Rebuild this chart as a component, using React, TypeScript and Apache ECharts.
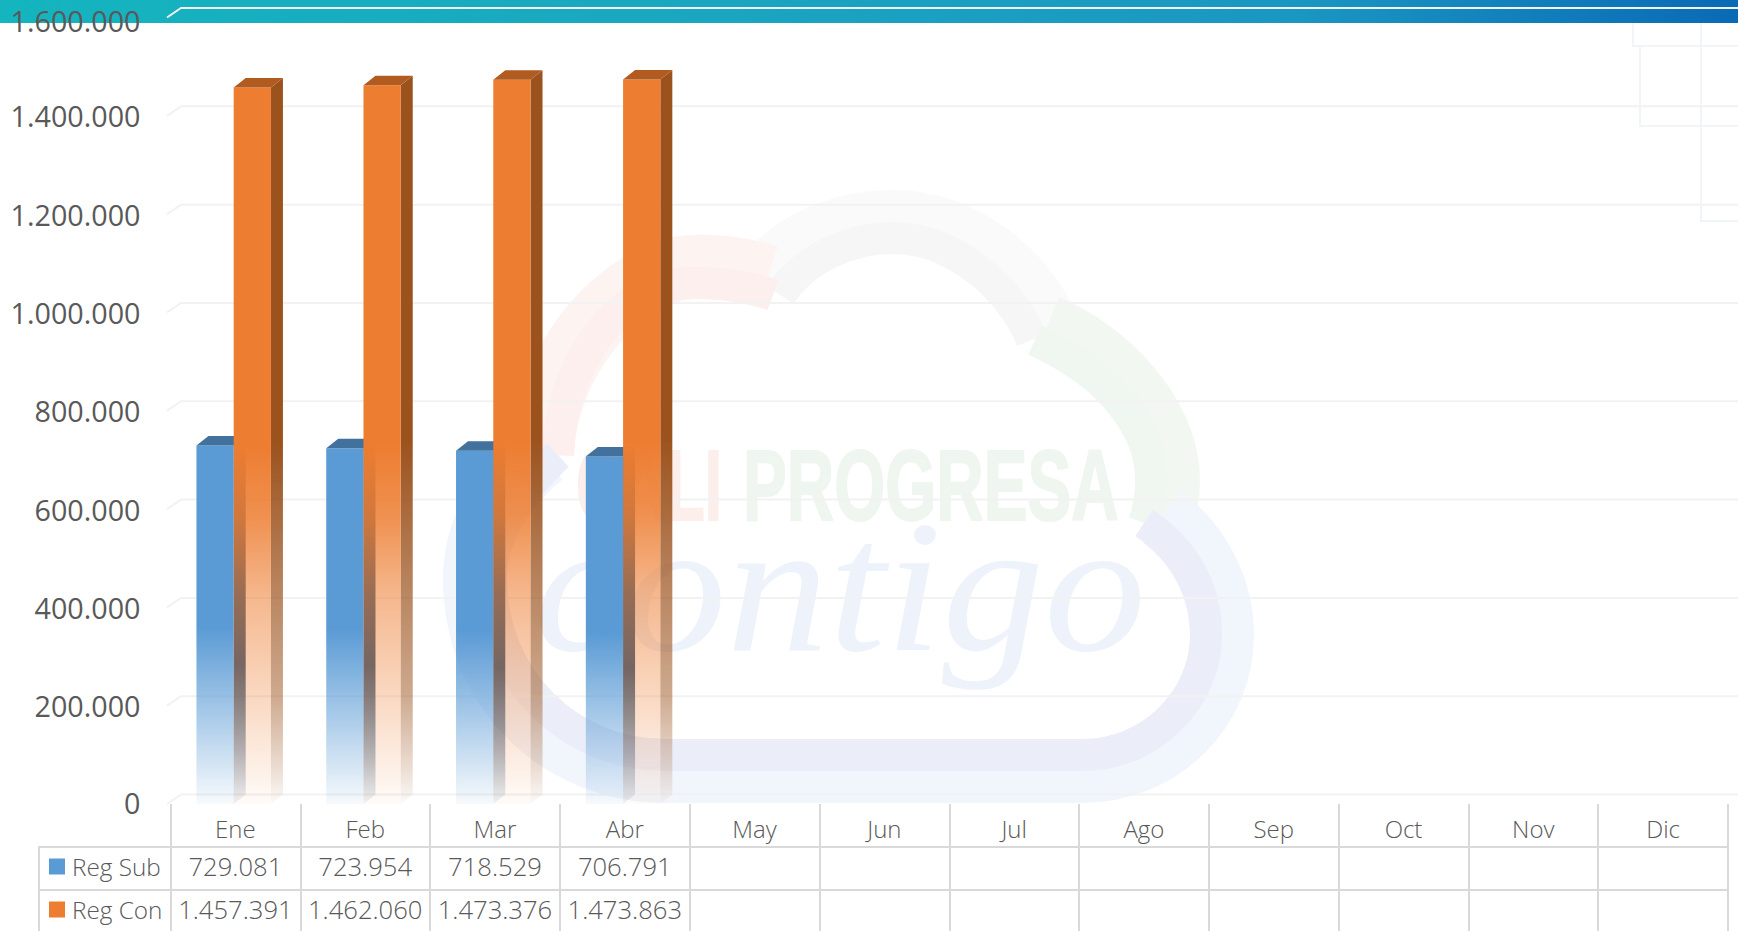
import React, { useEffect, useRef } from "react";
import * as echarts from "echarts";

const months = ["Ene", "Feb", "Mar", "Abr", "May", "Jun", "Jul", "Ago", "Sep", "Oct", "Nov", "Dic"];
const regSub = [729081, 723954, 718529, 706791];
const regCon = [1457391, 1462060, 1473376, 1473863];
const yTicks = [0, 200000, 400000, 600000, 800000, 1000000, 1200000, 1400000, 1600000];

const FONT = "'Open Sans', sans-serif";
const TEXT = "#595959";
const DEPTH_X = 12;
const DEPTH_Y = 9.5;

const dots = (v: number) => String(v).replace(/\B(?=(\d{3})+(?!\d))/g, ".");

const rgba = (hex: string, a: number) => {
  const n = parseInt(hex.slice(1), 16);
  return `rgba(${(n >> 16) & 255},${(n >> 8) & 255},${n & 255},${a})`;
};
const fade = (hex: string, stops: number[][]) =>
  new echarts.graphic.LinearGradient(0, 0, 0, 1, stops.map(([offset, a]) => ({ offset, color: rgba(hex, a) })));

const ring: [string, string, string, string, string][] = [
  ["wmGrayO", "M768,277C790,245 840,222 893,222C965,222 1025,275 1047,327", "M780,295C805,258 850,238 893,238C955,238 1012,290 1032,340", "#FAFAFA", "#F6F6F6"],
  ["wmRedO", "M768,277C740,268 710,265 680,268C610,285 545,365 542,455", "M773,295C745,285 700,280 668,285C610,300 560,370 558,455", "#FDF3F1", "#FCEFED"],
  ["wmGreenO", "M1047,327C1105,350 1168,415 1168,480C1168,495 1166,505 1162,517", "M1035,340C1110,375 1151,425 1151,480C1151,495 1149,510 1144,523", "#F2F7F2", "#F0F6F0"],
  ["wmBlueO", "M1162,517C1200,545 1222,590 1222,635C1222,710 1160,771 1083,771L666,771C560,771 475,690 475,578C475,530 500,490 542,455", "M1144,523C1185,550 1206,590 1206,635C1206,700 1150,755 1083,755L666,755C570,755 491,680 491,578C491,535 520,490 558,455", "#F1F5FC", "#EBEEF8"],
];

function barSeries(
  name: string, values: number[], color: string, side: string, top: string,
  frontStops: number[][], sideStops: number[][], shift: number, rowY: number, z: number
) {
  return {
    type: "custom", name, z, silent: true,
    itemStyle: { color },
    encode: { x: 0, y: 1 },
    data: values.map((v, i) => [i, v]),
    renderItem: (_p: any, api: any) => {
      const [cx, yTop] = api.coord([api.value(0), api.value(1)]);
      const [, yBase] = api.coord([api.value(0), 0]);
      const w = api.size([1, 0])[0] * 0.287;
      const x = cx - 1.7 + shift * w;
      return {
        type: "group",
        children: [
          { type: "polygon", shape: { points: [[x + w, yTop], [x + w + DEPTH_X, yTop - DEPTH_Y], [x + w + DEPTH_X, yBase - DEPTH_Y], [x + w, yBase]] }, style: { fill: fade(side, sideStops) } },
          { type: "rect", shape: { x, y: yTop, width: w, height: yBase - yTop }, style: { fill: fade(color, frontStops) } },
          { type: "polygon", shape: { points: [[x, yTop], [x + DEPTH_X, yTop - DEPTH_Y], [x + w + DEPTH_X, yTop - DEPTH_Y], [x + w, yTop]] }, style: { fill: top } },
          { type: "text", style: { text: dots(api.value(1)), x: cx, y: rowY, align: "center", verticalAlign: "middle", fontSize: 25.6, fontWeight: 300, fontFamily: FONT, fill: TEXT } },
        ],
      };
    },
  };
}

export default function App() {
  const ref = useRef<HTMLDivElement>(null);
  useEffect(() => {
    document.body.style.margin = "0";
    document.body.style.overflow = "hidden";
    ring.forEach(([key, outer, inner]) => {
      echarts.graphic.registerShape(key, echarts.graphic.extendPath(outer as any, {}) as any);
      echarts.graphic.registerShape(key + "I", echarts.graphic.extendPath(inner as any, {}) as any);
    });
    const chart = echarts.init(ref.current!, null, { renderer: "svg" });
    const line = (x1: number, y1: number, x2: number, y2: number) => ({
      type: "line", z: 0, shape: { x1, y1, x2, y2 }, style: { stroke: "#D9D9D9", lineWidth: 2 },
    });
    const square = (points: number[][]) => ({
      type: "polyline", z: 0, shape: { points }, style: { stroke: "#F1F5F9", lineWidth: 2, fill: "none" },
    });
    const legendStyle = { fontFamily: FONT, fontWeight: 300, fontSize: 24.3, color: TEXT, padding: [0, 0, 0, 2], lineHeight: 26 };
    const yLabel = { fontFamily: FONT, fontSize: 28.7, lineHeight: 30, color: TEXT };
    chart.setOption({
      animation: false,
      backgroundColor: "#FFFFFF",
      grid: { left: 170.5, right: 10, top: 17.5, height: 786.5, containLabel: false },
      legend: [
        { data: ["Reg Sub"], left: 49, top: 853.5, padding: 0, icon: "rect", itemWidth: 16, itemHeight: 16, itemGap: 0, textStyle: legendStyle, selectedMode: false },
        { data: ["Reg Con"], left: 49, top: 896.5, padding: 0, icon: "rect", itemWidth: 16, itemHeight: 16, itemGap: 0, textStyle: legendStyle, selectedMode: false },
      ],
      xAxis: {
        type: "category", data: months, z: 5,
        axisLine: { show: false },
        axisTick: { show: true, length: 127, lineStyle: { color: "#D9D9D9", width: 2 } },
        axisLabel: { fontFamily: FONT, fontWeight: 300, fontSize: 24, color: TEXT, margin: 11.5, lineHeight: 26 },
        splitLine: { show: false },
      },
      yAxis: {
        type: "value", min: 0, max: 1600000, interval: 200000, z: 5,
        axisLine: { show: false }, axisTick: { show: false }, splitLine: { show: false },
        axisLabel: {
          ...yLabel, margin: 30, showMinLabel: true, showMaxLabel: true,
          formatter: (v: number) => (v === 1600000 ? `{t|${dots(v)}}` : v === 0 ? `{b|${dots(v)}}` : dots(v)),
          rich: {
            t: { ...yLabel, padding: [5, 0, 0, 0] },
            b: { ...yLabel, padding: [0, 0, 4, 0] },
          },
        },
      },
      graphic: {
        elements: [
          {
            type: "rect", z: 0, shape: { x: 0, y: 0, width: 1738, height: 23 },
            style: { fill: new echarts.graphic.LinearGradient(0, 0, 1, 0, [
              { offset: 0, color: "#14B5BF" }, { offset: 0.4, color: "#1AA6C0" },
              { offset: 0.75, color: "#1A96C2" }, { offset: 1, color: "#0A6AB5" },
            ]) },
          },
          square([[1633, 23], [1633, 46], [1738, 46]]),
          square([[1640, 46], [1640, 126], [1738, 126]]),
          square([[1701, 23], [1701, 221], [1738, 221]]),
          ...ring.flatMap(([key, , , colorO, colorI]) => [
            { type: key, z: 0, style: { fill: "none", stroke: colorO, lineWidth: 64 } },
            { type: key + "I", z: 0, style: { fill: "none", stroke: colorI, lineWidth: 32 } },
          ]),
          { type: "text", z: 0, x: 576, y: 536, scaleX: 0.62, style: { text: "CALI", fontFamily: "'Liberation Sans', sans-serif", fontWeight: 700, fontSize: 101, fill: "#FCEEEB", stroke: "#FCEEEB", lineWidth: 2, verticalAlign: "bottom" } },
          { type: "text", z: 0, x: 743, y: 536, scaleX: 0.65, style: { text: "PROGRESA", fontFamily: "'Liberation Sans', sans-serif", fontWeight: 700, fontSize: 101, fill: "#EFF5EF", stroke: "#EFF5EF", lineWidth: 2, verticalAlign: "bottom" } },
          { type: "text", z: 0, x: 534, y: 680, scaleX: 1.3, scaleY: 1.2, style: { text: "contigo", fontFamily: "'Liberation Serif', serif", fontStyle: "italic", fontSize: 157, fill: "#EEF3FB", verticalAlign: "bottom" } },
          line(39, 847, 1729, 847),
          line(39, 890, 1729, 890),
          line(39, 846, 39, 931),
        ],
      },
      series: [
        {
          type: "custom", name: "grid-wall", z: 1, silent: true,
          encode: { x: 0, y: 1 },
          data: yTicks.map((v) => [0, v]),
          renderItem: (p: any, api: any) => {
            const [, y] = api.coord([0, api.value(1)]);
            const x0 = p.coordSys.x - 3.5;
            return {
              type: "polyline",
              shape: { points: [[x0, y], [x0 + 14, y - DEPTH_Y], [1738, y - DEPTH_Y]] },
              style: { stroke: "#F2F2F2", lineWidth: 2, fill: "none" },
            };
          },
        },
        barSeries("Reg Sub", regSub, "#5B9BD5", "#2F5880", "#41719C",
          [[0, 1], [0.51, 1], [1, 0.05]],
          [[0, 1], [0.62, 1], [1, 0.06]], -1, 866.5, 3),
        barSeries("Reg Con", regCon, "#ED7D31", "#9B521D", "#B25B20",
          [[0, 1], [0.5, 1], [0.6, 0.85], [0.71, 0.55], [0.85, 0.3], [0.95, 0.12], [1, 0.03]],
          [[0, 1], [0.5, 1], [0.85, 0.5], [0.95, 0.2], [1, 0.03]], 0, 909.5, 4),
      ],
    });
    return () => chart.dispose();
  }, []);
  return <div ref={ref} style={{ position: "absolute", left: 0, top: 0, width: 1738, height: 931 }} />;
}
